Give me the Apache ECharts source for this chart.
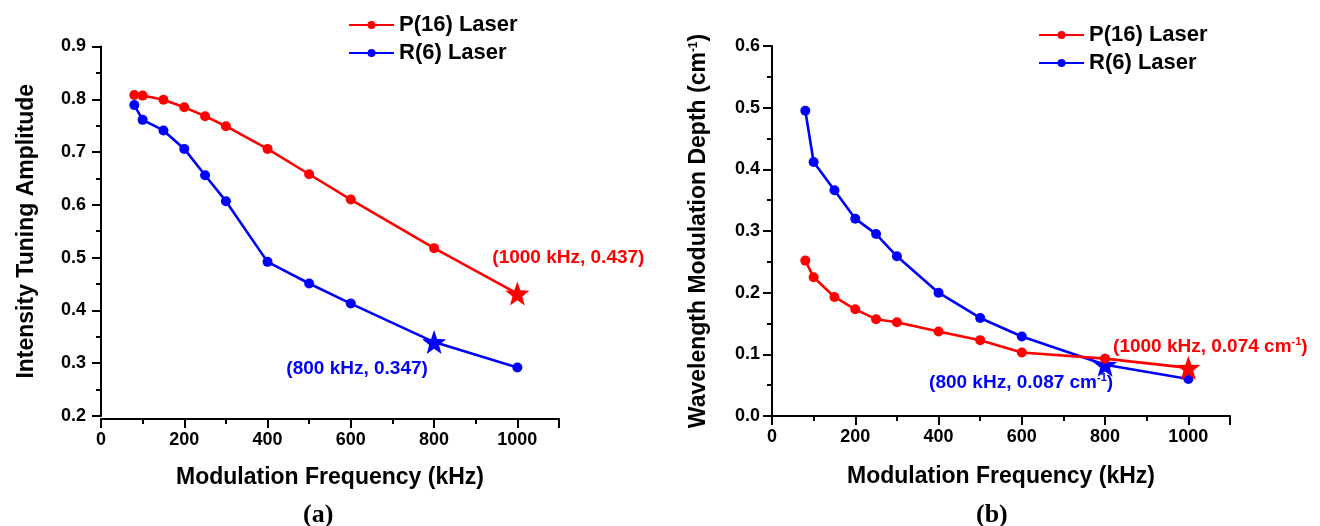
<!DOCTYPE html>
<html>
<head>
<meta charset="utf-8">
<script src="https://cdn.jsdelivr.net/npm/echarts@6/dist/echarts.min.js"></script>
<style>
html,body{margin:0;padding:0;background:#fff;}
#c{width:1320px;height:526px;}
</style>
</head>
<body>
<div id="c"></div>
<script>
// ---- data ----
const freq = [80, 100, 150, 200, 250, 300, 400, 500, 600, 800, 1000];
const ampP16 = [0.808, 0.807, 0.799, 0.785, 0.768, 0.749, 0.706, 0.658, 0.610, 0.518, 0.432];
const ampR6 = [0.789, 0.761, 0.741, 0.706, 0.656, 0.607, 0.492, 0.451, 0.413, 0.340, 0.292];
const depthP16 = [0.252, 0.225, 0.193, 0.173, 0.157, 0.152, 0.137, 0.123, 0.103, 0.093, 0.078];
const depthR6 = [0.495, 0.412, 0.366, 0.320, 0.295, 0.259, 0.200, 0.159, 0.129, 0.083, 0.060];
const seriesNames = ['P(16) Laser', 'R(6) Laser'];
const starIndexP16 = 10;
const starIndexR6 = 9;
const noteAmpP16 = '(1000 kHz, 0.437)';
const noteAmpR6 = '(800 kHz, 0.347)';
const noteDepthP16 = '(1000 kHz, 0.074 cm{sup|-1})';
const noteDepthR6 = '(800 kHz, 0.087 cm{sup|-1})';
const xTitle = 'Modulation Frequency (kHz)';
const yTitleA = 'Intensity Tuning Amplitude';
const yTitleB = 'Wavelength Modulation Depth (cm{sup|-1})';
const panelLabels = ['(a)', '(b)'];

// ---- styles ----
const FONT = "'Liberation Sans', Arial, sans-serif";
const RED = '#ff0000', BLUE = '#0000ff';
const STAR = 'path://M12,0.5L14.9,8.6L23.5,8.9L16.7,14.2L19.1,22.5L12,17.6L4.9,22.5L7.3,14.2L0.5,8.9L9.1,8.6Z';

function buildData(ys, starIdx, color, note, offset) {
  return freq.map((x, i) => {
    if (i !== starIdx) return [x, ys[i]];
    return {
      value: [x, ys[i]],
      symbol: STAR,
      symbolSize: 24,
      itemStyle: {color: color},
      label: {
        show: true, position: 'inside', offset: offset,
        formatter: note, color: color, fontSize: 19, fontWeight: 'bold', fontFamily: FONT,
        rich: {sup: {fontSize: 11, fontWeight: 'bold', color: color, fontFamily: FONT, padding: [0, 0, 9, 0]}}
      }
    };
  });
}

function lineSeries(name, ys, starIdx, color, note, offset, gi) {
  return {
    name: name, type: 'line', xAxisIndex: gi, yAxisIndex: gi,
    data: buildData(ys, starIdx, color, note, offset),
    symbol: 'circle', symbolSize: 10, showSymbol: true,
    lineStyle: {color: color, width: 2.6},
    itemStyle: {color: color},
    z: color === RED ? 3 : 2
  };
}

function xAxisCfg(gi, offset, gap) {
  return {
    type: 'value', gridIndex: gi, min: 0, max: 1100, interval: 200, offset: offset,
    name: xTitle, nameLocation: 'middle', nameGap: gap,
    nameTextStyle: {fontSize: 23, fontWeight: 'bold', color: '#000', fontFamily: FONT},
    axisLine: {show: true, onZero: false, lineStyle: {color: '#000', width: 2}},
    axisTick: {show: true, inside: false, length: 9, lineStyle: {color: '#000', width: 2}},
    minorTick: {show: true, splitNumber: 2, length: 5, lineStyle: {color: '#000', width: 2}},
    axisLabel: {fontSize: 18, fontWeight: 'bold', color: '#000', fontFamily: FONT, margin: 12,
      formatter: v => (v > 1000 ? '' : String(v))},
    splitLine: {show: false}
  };
}

function yAxisCfg(gi, min, max, name, gap, margin) {
  return {
    type: 'value', gridIndex: gi, min: min, max: max, interval: 0.1,
    name: name, nameLocation: 'middle', nameGap: gap, nameRotate: 90,
    nameTextStyle: {fontSize: 23, fontWeight: 'bold', color: '#000', fontFamily: FONT,
      rich: {sup: {fontSize: 12, fontWeight: 'bold', color: '#000', fontFamily: FONT, padding: [0, 0, 10, 0]}}},
    axisLine: {show: true, onZero: false, lineStyle: {color: '#000', width: 2}},
    axisTick: {show: true, inside: false, length: 9, lineStyle: {color: '#000', width: 2}},
    minorTick: {show: true, splitNumber: 2, length: 5, lineStyle: {color: '#000', width: 2}},
    axisLabel: {fontSize: 18, fontWeight: 'bold', color: '#000', fontFamily: FONT, margin: margin,
      formatter: v => v.toFixed(1)},
    splitLine: {show: false}
  };
}

const legendCommon = {
  orient: 'vertical', itemWidth: 45, itemHeight: 10, itemGap: 6,
  textStyle: {fontSize: 22, fontWeight: 'bold', color: '#000', fontFamily: FONT},
  data: seriesNames, selectedMode: false
};

const chart = echarts.init(document.getElementById('c'), null, {renderer: 'canvas'});
chart.setOption({
  animation: false,
  backgroundColor: '#fff',
  grid: [
    {left: 101, top: 46.5, right: 761, bottom: 110, containLabel: false},
    {left: 772, top: 46, right: 90, bottom: 110, containLabel: false}
  ],
  legend: [
    Object.assign({left: 343, top: 9}, legendCommon),
    Object.assign({left: 1033, top: 19}, legendCommon)
  ],
  xAxis: [xAxisCfg(0, 3, 47), xAxisCfg(1, 0, 49)],
  yAxis: [
    yAxisCfg(0, 0.2, 0.9, yTitleA, 63, 15),
    yAxisCfg(1, 0, 0.6, yTitleB, 62, 12)
  ],
  series: [
    lineSeries(seriesNames[0], ampP16, starIndexP16, RED, noteAmpP16, [51, -36], 0),
    lineSeries(seriesNames[1], ampR6, starIndexR6, BLUE, noteAmpR6, [-77, 27], 0),
    lineSeries(seriesNames[0], depthP16, starIndexP16, RED, noteDepthP16, [22, -21], 1),
    lineSeries(seriesNames[1], depthR6, starIndexR6, BLUE, noteDepthR6, [-84, 18], 1)
  ],
  graphic: [
    {type: 'text', left: 303, top: 502, style: {text: panelLabels[0], font: "bold 26px 'Liberation Serif', 'Times New Roman', serif", fill: '#000'}},
    {type: 'text', left: 976, top: 502, style: {text: panelLabels[1], font: "bold 26px 'Liberation Serif', 'Times New Roman', serif", fill: '#000'}}
  ]
});
</script>
</body>
</html>
